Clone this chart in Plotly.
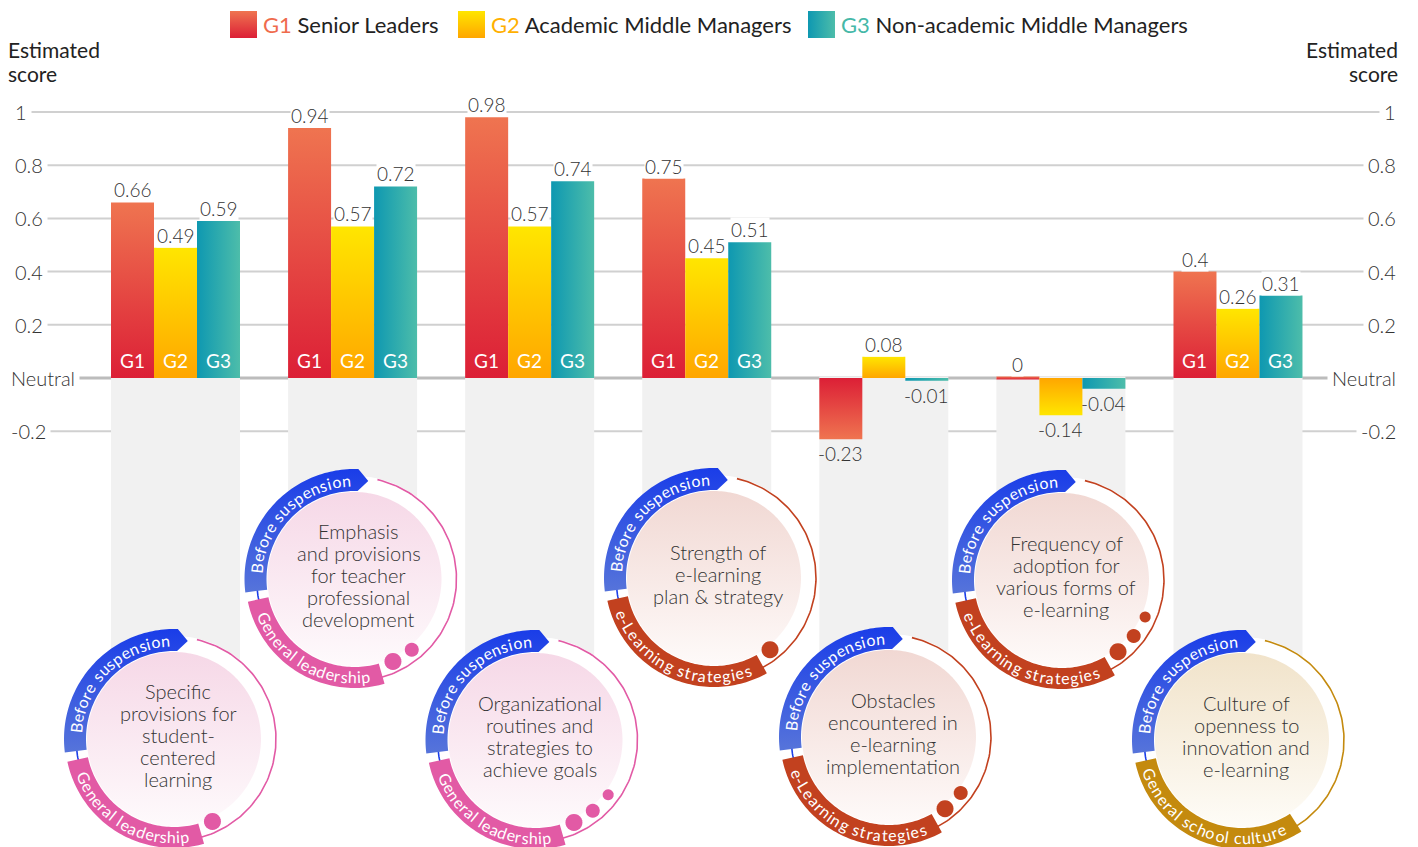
import math
import plotly.graph_objects as go

# ---------------- data ----------------
categories = [
    "Specific provisions for student-centered learning",
    "Emphasis and provisions for teacher professional development",
    "Organizational routines and strategies to achieve goals",
    "Strength of e-learning plan & strategy",
    "Obstacles encountered in e-learning implementation",
    "Frequency of adoption for various forms of e-learning",
    "Culture of openness to innovation and e-learning",
]
category_lines = [
    ["Specific", "provisions for", "student-", "centered", "learning"],
    ["Emphasis", "and provisions", "for teacher", "professional", "development"],
    ["Organizational", "routines and", "strategies to", "achieve goals"],
    ["Strength of", "e-learning", "plan & strategy"],
    ["Obstacles", "encountered in", "e-learning", "implementation"],
    ["Frequency of", "adoption for", "various forms of", "e-learning"],
    ["Culture of", "openness to", "innovation and", "e-learning"],
]
dimensions = ["General leadership"] * 3 + ["e-Learning strategies"] * 3 + ["General school culture"]
dimension_dots = [1, 2, 3, 1, 2, 3, 0]
period = "Before suspension"

g1_senior = [0.66, 0.94, 0.98, 0.75, -0.23, 0.00, 0.40]
g2_academic = [0.49, 0.57, 0.57, 0.45, 0.08, -0.14, 0.26]
g3_nonacademic = [0.59, 0.72, 0.74, 0.51, -0.01, -0.04, 0.31]
group_codes = ["G1", "G2", "G3"]
group_names = ["Senior Leaders", "Academic Middle Managers", "Non-academic Middle Managers"]

y_ticks = [1, 0.8, 0.6, 0.4, 0.2, -0.2]
y_tick_text = ["1", "0.8", "0.6", "0.4", "0.2", "-0.2"]
axis_title = ["Estimated", "score"]
neutral_label = "Neutral"

# ---------------- style / layout ----------------
FONT = "Lato, 'Source Sans Pro', sans-serif"
TXT = "#333333"
LIGHT = 300
W, H = 1418, 847
X0, XS = 175.5, 177.08      # pixel of category 0 centre, pixels per category
Y0, YS = 378.0, 266.0       # pixel of neutral line, pixels per score unit
BW = 43.0 / XS              # bar width in category units

group_grad = [
    ("vertical", "#dc1f36", "#ef7450"),
    ("vertical", "#ffa600", "#ffe600"),
    ("horizontal", "#0e98b1", "#4dbdaa"),
]
group_text_color = ["#ef6b4d", "#ffb000", "#45b8a8"]
dim_color = {"General leadership": "#e25aa5",
             "e-Learning strategies": "#c2411f",
             "General school culture": "#c48a0e"}
dim_disc = {"General leadership": ("#fefafc", "#f6d8e7"),
            "e-Learning strategies": ("#fefaf9", "#f1d8d3"),
            "General school culture": ("#fefcf7", "#f1e3ca")}
BLUE_LO, BLUE_HI = "#5674da", "#1a3de8"

circle_cx = [174, 354.5, 535.5, 714, 889, 1062, 1242]
circle_cy = [739, 579, 740, 578, 737, 580, 740]
text_span_bottom = {"General leadership": (200, 279),
                    "e-Learning strategies": (199, 292),
                    "General school culture": (197, 296)}


def dx(px):
    return (px - X0) / XS


def dy(py):
    return (Y0 - py) / YS


def polar(cx, cy, r, a):
    t = math.radians(a)
    return cx + r * math.cos(t), cy - r * math.sin(t)


def arc_pts(cx, cy, r, a0, a1):
    n = max(8, int(abs(a1 - a0) / 1.5) + 2)
    return [polar(cx, cy, r, a0 + (a1 - a0) * k / (n - 1)) for k in range(n)]


fig = go.Figure()
shapes = []
annotations = []


def add_poly(pts, **kw):
    xs = [dx(p[0]) for p in pts] + [dx(pts[0][0])]
    ys = [dy(p[1]) for p in pts] + [dy(pts[0][1])]
    fig.add_trace(go.Scatter(x=xs, y=ys, mode="none", fill="toself",
                             hoverinfo="skip", showlegend=False, **kw))


def add_line(pts, color, width):
    fig.add_trace(go.Scatter(x=[dx(p[0]) for p in pts], y=[dy(p[1]) for p in pts],
                             mode="lines", line=dict(color=color, width=width),
                             hoverinfo="skip", showlegend=False))


CW = {'i': .24, 'l': .24, 'j': .24, 'f': .31, 't': .34, 'r': .36, ' ': .26, '-': .33,
      's': .42, 'c': .45, 'e': .50, 'a': .49, 'n': .53, 'o': .53, 'u': .53, 'p': .53,
      'd': .53, 'h': .53, 'g': .49, 'b': .53, 'm': .80, 'w': .72, 'B': .60, 'G': .66,
      'L': .47, 'y': .48, 'k': .48, 'v': .48}


def curved(text, cx, cy, r, a0, a1, outward, color, size):
    ws = [CW.get(c, .52) for c in text]
    tot = sum(ws)
    acc = 0.0
    for c, w in zip(text, ws):
        a = a0 + (a1 - a0) * (acc + w / 2) / tot
        acc += w
        if c == " ":
            continue
        px, py = polar(cx, cy, r, a)
        ang = (90 - a) if outward else (270 - a)
        ang = (ang + 180) % 360 - 180
        annotations.append(dict(x=dx(px), y=dy(py), xref="x", yref="y", text=c,
                                showarrow=False, textangle=ang,
                                font=dict(size=size, color=color, family=FONT),
                                xanchor="center", yanchor="middle"))


# ---------------- gridlines & neutral line ----------------
for t in y_ticks:
    shapes.append(dict(type="line", xref="paper", yref="y", x0=24 / W, x1=1392 / W, y0=t, y1=t,
                       line=dict(color="#d0d0d0", width=2), layer="below"))
shapes.append(dict(type="line", xref="paper", yref="y", x0=30 / W, x1=1380 / W, y0=0, y1=0,
                   line=dict(color="#bcbcbc", width=3), layer="below"))

# ---------------- grey columns ----------------
for i in range(len(categories)):
    shapes.append(dict(type="rect", xref="x", yref="y", x0=i - 1.5 * BW, x1=i + 1.5 * BW,
                       y0=1.6 / YS, y1=dy(circle_cy[i]), fillcolor="#f1f1f1",
                       line=dict(width=0), layer="between"))

# ---------------- badges (circles) ----------------
for i, cat in enumerate(categories):
    cx, cy = circle_cx[i], circle_cy[i]
    dim = dimensions[i]
    col = dim_color[dim]
    s0, s1 = text_span_bottom[dim]
    band_end = s1 + 7
    # white backing disc
    add_poly(arc_pts(cx, cy, 103, 0, 360), fillcolor="white")
    # thin ring
    add_line(arc_pts(cx, cy, 102, band_end - 362, 77), col, 1.6)
    add_line(arc_pts(cx, cy, 98, 183, 195), BLUE_HI, 1.6)
    # inner disc with soft gradient
    lo, hi = dim_disc[dim]
    add_poly(arc_pts(cx, cy, 87, 0, 360),
             fillgradient=dict(type="vertical", colorscale=[[0, lo], [1, hi]]))
    # blue band with arrow
    outer = arc_pts(cx, cy, 110, 187, 88)
    inner = arc_pts(cx, cy, 88, 88, 187)
    tip = [polar(cx, cy, 99, 82)]
    add_poly(outer + tip + inner,
             fillgradient=dict(type="vertical", colorscale=[[0, BLUE_LO], [1, BLUE_HI]]))
    # dimension band
    add_poly(arc_pts(cx, cy, 109, 192, band_end) + arc_pts(cx, cy, 88, band_end, 192), fillcolor=col)
    # dots
    for k, rr in enumerate([8.5, 7, 5.5][:dimension_dots[i]]):
        ang = band_end + 9 + 14 * k
        px, py = polar(cx, cy, 91, ang)
        pts = [(px + rr * math.cos(math.radians(t)), py + rr * math.sin(math.radians(t)))
               for t in range(0, 360, 15)]
        add_poly(pts, fillcolor=col)
    # curved labels
    curved(period, cx, cy, 99, 177, 92, True, "white", 16)
    curved(dim, cx, cy, 98, s0, s1, False, "white", 16)
    # centre text
    lines = category_lines[i]
    n = len(lines)
    for k, ln in enumerate(lines):
        py = cy - 4 + (k - (n - 1) / 2) * 22
        annotations.append(dict(x=dx(cx + 4), y=dy(py), xref="x", yref="y", text=ln,
                                showarrow=False, xanchor="center", yanchor="middle",
                                font=dict(size=20, color=TXT, family=FONT, weight=LIGHT)))

# ---------------- bars ----------------
series = [g1_senior, g2_academic, g3_nonacademic]
for g, vals in enumerate(series):
    kind, c_base, c_tip = group_grad[g]
    for i, v in enumerate(vals):
        xc = i + (g - 1) * BW
        x0, x1 = xc - BW / 2, xc + BW / 2
        if v == 0:
            yb, yt = -1.5 / YS, 1.5 / YS
        else:
            yb, yt = 0, v
        if kind == "vertical":
            lo, hi = (c_base, c_tip) if v >= 0 else (c_tip, c_base)
            grad = dict(type="vertical", colorscale=[[0, lo], [1, hi]])
        else:
            grad = dict(type="horizontal", colorscale=[[0, c_base], [1, c_tip]])
        fig.add_trace(go.Scatter(x=[x0, x1, x1, x0, x0], y=[yb, yb, yt, yt, yb], mode="none",
                                 fill="toself", fillgradient=grad, hoverinfo="skip",
                                 showlegend=False))
        lab = f"{v:g}"
        if v >= 0:
            annotations.append(dict(x=xc, y=max(v, 1.5 / YS), xref="x", yref="y", text=lab,
                                    showarrow=False, xanchor="center", yanchor="bottom",
                                    yshift=0, bgcolor="white", borderpad=0,
                                    font=dict(size=19, color=TXT, family=FONT, weight=LIGHT)))
        else:
            annotations.append(dict(x=xc, y=v, xref="x", yref="y", text=lab,
                                    showarrow=False, xanchor="center", yanchor="top",
                                    yshift=-1, font=dict(size=19, color=TXT, family=FONT, weight=LIGHT)))
        if all(s[i] > 0.2 for s in series):
            annotations.append(dict(x=xc, y=0, xref="x", yref="y", text=group_codes[g],
                                    showarrow=False, xanchor="center", yanchor="bottom",
                                    yshift=4, font=dict(size=19, color="white", family=FONT)))

# ---------------- axis labels ----------------
for t, s in zip(y_ticks + [0], y_tick_text + [neutral_label]):
    lx = 6 if s in ("Neutral", "-0.2") else 10
    annotations.append(dict(x=lx / W, y=t, xref="paper", yref="y", text=s, showarrow=False,
                            xanchor="left", yanchor="middle", bgcolor="white", borderpad=4,
                            font=dict(size=20, color=TXT, family=FONT, weight=LIGHT)))
    annotations.append(dict(x=1401 / W, y=t, xref="paper", yref="y", text=s, showarrow=False,
                            xanchor="right", yanchor="middle", bgcolor="white", borderpad=4,
                            font=dict(size=20, color=TXT, family=FONT, weight=LIGHT)))
for k, s in enumerate(axis_title):
    yy = 1 - (49 + 24 * k) / H
    annotations.append(dict(x=6 / W, y=yy, xref="paper", yref="paper", text=s, showarrow=False,
                            xanchor="left", yanchor="middle",
                            font=dict(size=21, color="#222", family=FONT)))
    annotations.append(dict(x=1400 / W, y=yy, xref="paper", yref="paper", text=s, showarrow=False,
                            xanchor="right", yanchor="middle",
                            font=dict(size=21, color="#222", family=FONT)))

# ---------------- legend ----------------
legend_sq = [230, 458, 808]
for g in range(3):
    x0p = legend_sq[g]
    kind, c_base, c_tip = group_grad[g]
    pts = [(x0p, 38), (x0p + 27, 38), (x0p + 27, 11), (x0p, 11)]
    add_poly(pts, fillgradient=dict(type=kind, colorscale=[[0, c_base], [1, c_tip]]))
    annotations.append(dict(x=(x0p + 31) / W, y=1 - 24.5 / H, xref="paper", yref="paper",
                            text=f'<span style="color:{group_text_color[g]}">{group_codes[g]}</span> {group_names[g]}',
                            showarrow=False, xanchor="left", yanchor="middle",
                            font=dict(size=22, color="#222", family=FONT)))

fig.update_layout(
    width=W, height=H, margin=dict(l=0, r=0, t=0, b=0),
    paper_bgcolor="white", plot_bgcolor="white", showlegend=False,
    xaxis=dict(range=[dx(0), dx(W)], visible=False, fixedrange=True),
    yaxis=dict(range=[dy(H), dy(0)], visible=False, fixedrange=True),
    shapes=shapes, annotations=annotations,
)
fig.write_html("out.html", config={"displayModeBar": False},
               post_script="document.body.style.margin='0';document.body.style.overflow='hidden';")
